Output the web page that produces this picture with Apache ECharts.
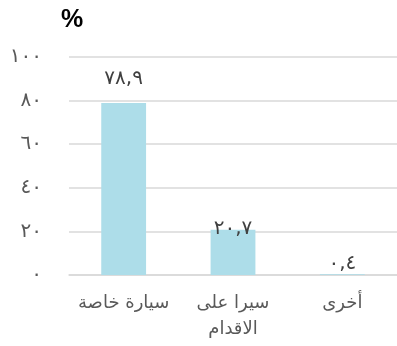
<!DOCTYPE html>
<html>
<head>
<meta charset="utf-8">
<script src="https://cdn.jsdelivr.net/npm/echarts@6/dist/echarts.min.js"></script>
<style>
  html, body { margin: 0; padding: 0; background: #fff; }
  #chart { width: 397px; height: 346px; }
</style>
</head>
<body>
<div id="chart"></div>
<script>
// Modes of transport (percent)
const categories = ['سيارة خاصة', 'سيرا على\nالاقدام', 'أخرى'];
const shares = [78.9, 20.7, 0.4];
const yTicks = [0, 20, 40, 60, 80, 100];

// Hand-placed value labels: vertical nudge per bar
const labelNudge = [-6, 17, 8];

// Western digits -> Arabic-Indic digits, decimal point -> comma
const arabicDigits = '٠١٢٣٤٥٦٧٨٩';
function toArabic(v) {
  return String(v).replace('.', ',').replace(/[0-9]/g, d => arabicDigits[+d]);
}

const chart = echarts.init(document.getElementById('chart'));
const font = '"DejaVu Sans", sans-serif';

chart.setOption({
  animation: false,
  title: {
    text: '%',
    left: 56,
    top: 3,
    textStyle: { fontFamily: 'Liberation Sans, sans-serif', fontSize: 25, fontWeight: 'bold', color: '#000' }
  },
  grid: { left: 69, right: -4, top: 57, bottom: 71, containLabel: false },
  xAxis: {
    type: 'category',
    data: categories,
    axisLine: { show: true, lineStyle: { color: '#d9d9d9', width: 1.5 } },
    axisTick: { show: false },
    axisLabel: {
      interval: 0,
      margin: 15,
      color: '#595959',
      fontFamily: font,
      fontSize: 18,
      lineHeight: 26
    }
  },
  yAxis: {
    type: 'value',
    min: yTicks[0],
    max: yTicks[yTicks.length - 1],
    interval: 20,
    axisLine: { show: false },
    axisTick: { show: false },
    splitLine: { lineStyle: { color: '#d9d9d9', width: 1.5 } },
    axisLabel: {
      margin: 27,
      color: '#595959',
      fontFamily: font,
      fontSize: 20,
      formatter: v => toArabic(v)
    }
  },
  series: [{
    type: 'bar',
    data: shares.map((v, i) => ({ value: v, label: { offset: [0, labelNudge[i]] } })),
    barWidth: '41%',
    itemStyle: { color: '#ADDDE9' },
    label: {
      show: true,
      position: 'top',
      distance: 8,
      color: '#404040',
      fontFamily: font,
      fontSize: 20,
      formatter: p => toArabic(p.value)
    }
  }]
});
</script>
</body>
</html>
